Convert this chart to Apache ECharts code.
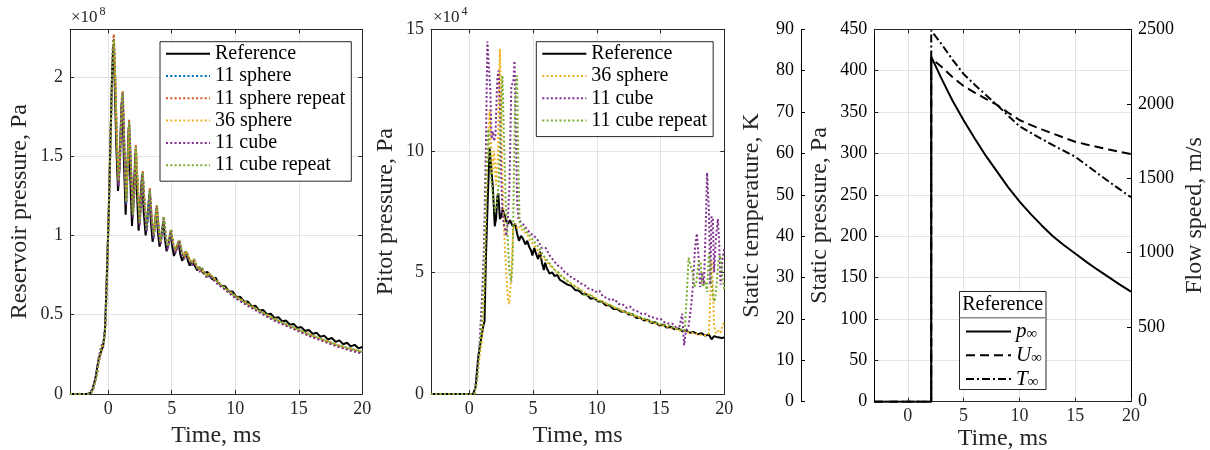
<!DOCTYPE html>
<html><head><meta charset="utf-8">
<script src="https://cdn.jsdelivr.net/npm/echarts@6/dist/echarts.min.js"></script>
<style>html,body{margin:0;padding:0;background:#fff}#c{width:1210px;height:450px}</style>
</head><body><div id="c"></div><script>
// ---------- Panel 1: reservoir pressure (x 1e8 Pa) ----------
const refRes = [[-3,0],[-1.6,0],[-1.3,0.01],[-1.0,0.1],[-0.75,0.22],[-0.55,0.27],[-0.4,0.3],[-0.25,0.4],[-0.1,0.75],[0.05,1.15],[0.2,1.65],[0.32,2.05],[0.42,2.2],[0.52,1.95],[0.65,1.55],[0.78,1.28],[0.9,1.45],[1.05,1.82],[1.12,1.86],[1.25,1.45],[1.38,1.13],[1.5,1.4],[1.62,1.68],[1.75,1.35],[1.88,1.06],[2.0,1.25],[2.15,1.52],[2.28,1.25],[2.4,1.03],[2.52,1.2],[2.67,1.38],[2.8,1.15],[2.95,1.0],[3.1,1.12],[3.24,1.26],[3.37,1.08],[3.5,0.96],[3.65,1.05],[3.79,1.17],[3.92,1.02],[4.05,0.93],[4.2,1.0],[4.34,1.09],[4.48,0.97],[4.6,0.9],[4.76,0.95],[4.92,1.02],[5.05,0.93],[5.18,0.87],[5.35,0.91],[5.54,0.96],[5.68,0.88],[5.82,0.84],[5.98,0.87],[6.12,0.9],[6.28,0.84],[6.42,0.81],[6.6,0.84],[6.72,0.85],[6.88,0.8],[7.0,0.78],[7.2,0.8],[7.32,0.8],[7.5,0.76],[7.65,0.75],[7.82,0.77],[7.95,0.76],[8.12,0.73],[8.3,0.72],[8.45,0.735],[8.6,0.71],[8.9,0.682],[9.2,0.68],[9.5,0.647],[9.8,0.646],[10.1,0.612],[10.4,0.613],[10.7,0.582],[11.0,0.583],[11.3,0.553],[11.6,0.556],[11.9,0.526],[12.2,0.53],[12.5,0.502],[12.8,0.506],[13.1,0.479],[13.4,0.484],[13.7,0.457],[14.0,0.463],[14.3,0.437],[14.6,0.442],[14.9,0.416],[15.2,0.422],[15.5,0.397],[15.8,0.404],[16.1,0.379],[16.4,0.386],[16.7,0.361],[17.0,0.368],[17.3,0.344],[17.6,0.353],[17.9,0.329],[18.2,0.338],[18.5,0.314],[18.8,0.323],[19.1,0.3],[19.4,0.31],[19.7,0.288],[20.0,0.296]];
const timeSim1 = [-3,-1.6,-1.2,-0.9,-0.7,-0.5,-0.35,-0.2,-0.05,0.1,0.25,0.38,0.45,0.55,0.68,0.82,0.95,1.08,1.15,1.28,1.42,1.55,1.65,1.8,1.95,2.08,2.18,2.33,2.48,2.6,2.72,2.88,3.03,3.16,3.28,3.43,3.58,3.71,3.83,3.98,4.13,4.26,4.38,4.53,4.68,4.81,4.95,5.12,5.3,5.45,5.6,5.8,6.0,6.15,6.4,6.6,6.75,7.0,7.2,7.35,7.6,7.8,7.95,8.5,9,10,11,12,13,14,15,16,17,18,19,20];
const sphere11Res = [0,0,0.02,0.12,0.22,0.29,0.32,0.45,0.85,1.3,1.8,2.18,2.24,2.0,1.6,1.32,1.5,1.85,1.9,1.55,1.2,1.45,1.72,1.42,1.12,1.3,1.56,1.3,1.07,1.22,1.4,1.18,1.03,1.15,1.29,1.1,0.99,1.08,1.19,1.04,0.95,1.02,1.12,0.99,0.92,0.97,1.04,0.94,0.9,0.93,0.97,0.89,0.86,0.9,0.85,0.82,0.85,0.8,0.78,0.8,0.76,0.74,0.76,0.71,0.68,0.615,0.565,0.52,0.475,0.44,0.405,0.37,0.34,0.31,0.285,0.265];
const sphere11rRes = [0,0,0.02,0.11,0.21,0.28,0.31,0.46,0.88,1.33,1.83,2.22,2.27,2.02,1.62,1.33,1.52,1.88,1.91,1.56,1.21,1.46,1.73,1.43,1.13,1.31,1.57,1.31,1.08,1.23,1.41,1.19,1.04,1.16,1.3,1.11,1.0,1.09,1.19,1.05,0.96,1.03,1.12,1.0,0.93,0.98,1.04,0.95,0.9,0.94,0.97,0.89,0.86,0.9,0.85,0.82,0.85,0.8,0.78,0.8,0.76,0.74,0.76,0.71,0.675,0.61,0.56,0.515,0.47,0.435,0.4,0.365,0.335,0.305,0.28,0.26];
const sphere36Res = [0,0,0.02,0.12,0.23,0.3,0.32,0.44,0.83,1.28,1.78,2.15,2.23,2.01,1.62,1.35,1.5,1.83,1.88,1.56,1.22,1.45,1.71,1.43,1.14,1.31,1.55,1.31,1.09,1.23,1.39,1.19,1.05,1.16,1.28,1.11,1.0,1.09,1.18,1.05,0.96,1.03,1.11,1.0,0.93,0.98,1.03,0.95,0.91,0.94,0.96,0.9,0.87,0.9,0.85,0.83,0.85,0.8,0.79,0.8,0.76,0.745,0.76,0.715,0.68,0.62,0.57,0.52,0.48,0.44,0.405,0.372,0.342,0.312,0.288,0.268];
const cube11Res = [0,0,0.03,0.14,0.25,0.31,0.33,0.46,0.86,1.3,1.79,2.17,2.24,2.0,1.6,1.31,1.49,1.84,1.89,1.54,1.19,1.44,1.71,1.41,1.11,1.29,1.55,1.29,1.06,1.21,1.39,1.17,1.02,1.14,1.28,1.09,0.98,1.07,1.18,1.03,0.94,1.01,1.11,0.98,0.91,0.96,1.03,0.93,0.89,0.92,0.96,0.88,0.85,0.89,0.84,0.81,0.84,0.79,0.77,0.79,0.75,0.73,0.75,0.7,0.67,0.605,0.555,0.51,0.465,0.43,0.395,0.36,0.33,0.3,0.275,0.255];
const cube11rRes = [0,0,0.02,0.12,0.23,0.3,0.32,0.45,0.86,1.31,1.8,2.19,2.25,2.02,1.62,1.34,1.52,1.86,1.9,1.56,1.21,1.46,1.72,1.43,1.13,1.31,1.56,1.31,1.08,1.23,1.4,1.19,1.04,1.16,1.29,1.11,1.0,1.09,1.19,1.05,0.96,1.03,1.12,1.0,0.93,0.98,1.04,0.95,0.91,0.94,0.97,0.9,0.87,0.9,0.85,0.83,0.85,0.8,0.785,0.8,0.76,0.745,0.76,0.715,0.68,0.615,0.565,0.52,0.475,0.44,0.405,0.37,0.34,0.31,0.287,0.267];

// ---------- Panel 2: pitot pressure (x 1e4 Pa) ----------
const refPitot = [[-3,0],[0.3,0],[0.5,0.3],[0.7,1.5],[0.8,1.85],[0.95,1.9],[1.1,2.8],[1.2,3.0],[1.3,5.5],[1.45,8.0],[1.6,10.1],[1.72,10.1],[1.85,8.5],[2.0,6.9],[2.1,7.2],[2.2,8.1],[2.28,8.25],[2.4,7.2],[2.5,7.3],[2.62,7.6],[2.75,7.4],[2.9,7.1],[3.05,7.0],[3.2,7.15],[3.4,6.9],[3.6,7.0],[3.75,6.6],[3.9,6.3],[4.05,6.5],[4.2,6.4],[4.4,6.15],[4.55,6.3],[4.7,6.05],[4.85,5.9],[4.95,5.7],[5.1,6.0],[5.25,5.75],[5.4,5.55],[5.55,5.85],[5.7,5.4],[5.85,5.1],[5.95,5.4],[6.1,5.15],[6.3,4.95],[6.5,5.0],[6.7,4.85],[6.9,4.9],[7.1,4.7],[7.4,4.6],[7.7,4.5],[8.0,4.45],[8.3,4.28],[8.6,4.25],[8.9,4.1],[9.2,4.1],[9.5,3.92],[9.8,3.95],[10.1,3.8],[10.4,3.8],[10.7,3.65],[11,3.65],[11.3,3.5],[11.6,3.5],[11.9,3.38],[12.2,3.4],[12.5,3.27],[12.8,3.28],[13.1,3.13],[13.4,3.15],[13.7,3.02],[14,3.05],[14.3,2.92],[14.6,2.95],[14.9,2.82],[15.2,2.85],[15.5,2.73],[15.8,2.76],[16.1,2.66],[16.4,2.7],[16.7,2.58],[17,2.62],[17.3,2.52],[17.6,2.55],[17.9,2.46],[18.2,2.5],[18.5,2.4],[18.8,2.44],[19.0,2.25],[19.2,2.38],[19.5,2.33],[19.8,2.3],[20,2.32]];
const sphere36Pitot = [[-3,0],[0.4,0],[0.6,0.5],[0.8,1.5],[1.0,2.2],[1.2,4.5],[1.4,9.5],[1.6,11.7],[1.8,9.0],[1.95,10.0],[2.1,8.6],[2.25,9.8],[2.4,14.2],[2.5,12.0],[2.6,9.0],[2.75,6.5],[2.9,5.0],[3.05,3.8],[3.15,3.7],[3.3,5.0],[3.45,6.8],[3.6,7.0],[3.8,6.8],[4.0,6.9],[4.2,6.7],[4.5,6.6],[4.8,6.3],[5.1,6.1],[5.4,5.9],[5.7,5.6],[6.0,5.5],[6.3,5.3],[6.6,5.15],[6.9,5.0],[7.2,4.85],[7.5,4.75],[7.8,4.6],[8.1,4.5],[8.4,4.4],[8.7,4.3],[9.0,4.2],[9.3,4.1],[9.6,4.05],[9.9,3.95],[10.2,3.85],[10.5,3.8],[10.8,3.7],[11.1,3.65],[11.4,3.55],[11.7,3.5],[12,3.42],[12.3,3.35],[12.6,3.3],[12.9,3.22],[13.2,3.18],[13.5,3.1],[13.8,3.05],[14.1,2.98],[14.4,2.95],[14.7,2.88],[15,2.85],[15.3,2.8],[15.6,2.75],[15.9,2.7],[16.2,2.68],[16.5,2.62],[16.8,2.6],[17.1,2.55],[17.4,2.52],[17.7,2.48],[18,2.45],[18.3,2.42],[18.6,2.4],[18.8,2.5],[18.9,4.0],[19.0,5.5],[19.1,4.5],[19.2,2.8],[19.35,2.5],[19.5,2.6],[19.7,2.5],[19.85,2.8],[20,3.0]];
const cube11Pitot = [[-3,0],[0.4,0],[0.6,0.8],[0.8,2.0],[1.0,4.0],[1.15,6.0],[1.3,10.0],[1.42,14.5],[1.55,14.5],[1.65,12.5],[1.75,10.5],[1.85,10.8],[1.95,10.4],[2.05,10.6],[2.2,13.0],[2.3,13.3],[2.4,12.0],[2.5,9.0],[2.6,7.5],[2.7,7.0],[2.8,6.8],[2.9,6.5],[3.0,7.0],[3.15,8.5],[3.3,12.7],[3.45,12.8],[3.55,13.7],[3.65,11.0],[3.75,8.0],[3.85,7.2],[4.0,7.1],[4.2,7.0],[4.5,6.8],[4.8,6.6],[5.1,6.5],[5.4,6.3],[5.7,6.0],[6.0,6.0],[6.3,5.7],[6.6,5.5],[6.9,5.3],[7.2,5.2],[7.5,5.0],[7.8,4.9],[8.1,4.75],[8.4,4.7],[8.7,4.55],[9.0,4.5],[9.3,4.35],[9.6,4.3],[9.9,4.2],[10.2,4.25],[10.5,4.0],[10.8,3.95],[11.1,3.85],[11.4,3.9],[11.7,3.7],[12,3.7],[12.3,3.55],[12.6,3.6],[12.9,3.45],[13.2,3.4],[13.5,3.3],[13.8,3.3],[14.1,3.2],[14.4,3.15],[14.7,3.1],[15,3.1],[15.3,2.95],[15.6,2.9],[15.9,2.9],[16.2,2.75],[16.5,2.8],[16.7,3.3],[16.85,2.0],[17.0,2.6],[17.2,2.8],[17.4,3.6],[17.55,4.5],[17.7,6.0],[17.85,6.6],[18.0,5.5],[18.1,4.4],[18.25,5.0],[18.4,4.5],[18.55,7.0],[18.65,9.1],[18.8,7.5],[18.9,4.5],[19.0,7.3],[19.1,7.2],[19.2,5.0],[19.35,6.5],[19.5,7.2],[19.6,6.2],[19.7,4.5],[19.85,5.5],[20,6.0]];
const cube11rPitot = [[-3,0],[0.4,0],[0.6,0.5],[0.8,1.8],[1.0,3.0],[1.2,5.5],[1.35,9.0],[1.5,10.9],[1.6,10.0],[1.7,9.0],[1.85,8.2],[2.0,7.5],[2.15,7.8],[2.3,8.6],[2.45,11.0],[2.6,13.1],[2.7,11.0],[2.85,8.0],[3.0,6.5],[3.15,5.0],[3.3,4.6],[3.4,5.5],[3.5,9.0],[3.6,12.0],[3.75,13.1],[3.85,9.5],[3.95,7.0],[4.1,6.9],[4.3,6.8],[4.6,6.6],[4.9,6.4],[5.2,6.2],[5.5,6.0],[5.8,5.7],[6.1,5.5],[6.4,5.3],[6.7,5.1],[7.0,5.0],[7.3,4.8],[7.6,4.7],[7.9,4.55],[8.2,4.45],[8.5,4.35],[8.8,4.25],[9.1,4.0],[9.4,4.1],[9.7,4.0],[10,3.85],[10.3,3.8],[10.6,3.75],[10.9,3.7],[11.2,3.6],[11.5,3.55],[11.8,3.45],[12.1,3.4],[12.4,3.35],[12.7,3.3],[13,3.2],[13.3,3.2],[13.6,3.1],[13.9,3.1],[14.2,3.0],[14.5,2.95],[14.8,2.9],[15.1,2.85],[15.4,2.85],[15.7,2.8],[16,2.75],[16.3,2.7],[16.6,2.65],[16.9,2.6],[17.05,4.0],[17.2,5.6],[17.35,5.3],[17.5,5.0],[17.65,4.4],[17.8,4.6],[18.0,5.5],[18.15,5.4],[18.3,4.4],[18.5,4.6],[18.65,4.2],[18.8,5.8],[18.95,5.0],[19.1,4.0],[19.25,3.8],[19.4,4.5],[19.55,5.5],[19.7,5.7],[19.85,4.8],[20,4.3]];

// ---------- Panel 3: free-stream conditions ----------
const timeFree = [-3,2.1,2.1,3,4,5,6,7,8,9,10,11,12,13,14,15,16,17,18,19,20];
const pInf = [0,0,417,391,364,340,318,297,278,259,242,227,213,200,189,179,169,159.5,150.5,141.5,133];
const uInf = [0,0,2305,2250,2180,2119,2075,2033,1992,1940,1891,1858,1828,1800,1772,1745,1727,1710,1693,1677,1663];
const tInf = [0,0,89.7,86.5,82.7,79.2,76.6,74.1,71.7,69.1,66.6,65.0,63.5,62.0,60.6,59.2,57.2,55.2,53.2,51.3,49.4];

const names1 = ['Reference','11 sphere','11 sphere repeat','36 sphere','11 cube','11 cube repeat'];
const names2 = ['Reference','36 sphere','11 cube','11 cube repeat'];
const names3 = ['p∞','U∞','T∞'];

const FONT = '"Liberation Serif","Times New Roman",serif';
const AX = '#262626', GRIDC = '#e4e4e4';
const C = {blue:'#0072BD', red:'#D95319', yellow:'#EDB120', purple:'#7E2F8E', green:'#77AC30'};
const zip = (t, v) => t.map((x, i) => [x, v[i]]);
const plain = v => String(v);

function xBottom(g, gap) {
  return {type:'value', gridIndex:g, min:-3, max:20, position:'bottom', name:'Time, ms', nameLocation:'middle', nameGap:gap, nameMoveOverlap:false,
    nameTextStyle:{fontFamily:FONT, fontSize:24, color:AX},
    axisLine:{show:true, onZero:false, lineStyle:{color:AX, width:1}},
    axisTick:{show:true, inside:true, length:4, lineStyle:{color:AX}},
    axisLabel:{showMinLabel:false, fontFamily:FONT, fontSize:18, color:AX, margin:6, formatter:plain},
    splitLine:{show:true, lineStyle:{color:GRIDC, width:1}}};
}
function xTop(g) {
  return {type:'value', gridIndex:g, min:-3, max:20, position:'top',
    axisLine:{show:true, onZero:false, lineStyle:{color:AX, width:1}},
    axisTick:{show:true, inside:true, length:4, lineStyle:{color:AX}},
    axisLabel:{show:false}, splitLine:{show:false}};
}
function yAx(g, pos, min, max, interval, opts) {
  const o = {type:'value', gridIndex:g, position:pos, min:min, max:max, interval:interval, nameMoveOverlap:false,
    axisLine:{show:true, onZero:false, lineStyle:{color:AX, width:1}},
    axisTick:{show:true, inside:true, length:4, lineStyle:{color:AX}},
    axisLabel:{show:false}, splitLine:{show:false}};
  return Object.assign(o, opts || {});
}
const yLab = (extra) => Object.assign({show:true, fontFamily:FONT, fontSize:18, color:AX, margin:7, formatter:plain}, extra || {});
const nameStyle = {fontFamily:FONT, fontSize:24, color:AX};

function dotted(name, data, color, xi, yi) {
  return {type:'line', name:name, data:data, xAxisIndex:xi, yAxisIndex:yi, symbol:'none', showSymbol:false, animation:false,
    lineStyle:{color:color, width:2, type:[2,2.3]}, itemStyle:{color:color}, z:3};
}
function solid(name, data, xi, yi, dash) {
  return {type:'line', name:name, data:data, xAxisIndex:xi, yAxisIndex:yi, symbol:'none', showSymbol:false, animation:false,
    lineStyle:{color:'#000', width:2, type:dash || 'solid'}, itemStyle:{color:'#000'}, z:2};
}

const legendBase = {orient:'vertical', selectedMode:false, itemWidth:44, itemHeight:20, itemGap:2.3,
  itemStyle:{opacity:0},
  textStyle:{fontFamily:FONT, fontSize:20, color:'#000', lineHeight:20}, z:10};

const option = {
  animation:false,
  backgroundColor:'#fff',
  grid:[
    {left:70, top:29.3, width:292.3, height:364.7, containLabel:false, outerBoundsMode:'none'},
    {left:431, top:29.3, width:293.3, height:364.7, containLabel:false, outerBoundsMode:'none'},
    {left:874.3, top:29.3, width:256.7, height:372.4, containLabel:false, outerBoundsMode:'none'}
  ],
  xAxis:[xBottom(0,30), xTop(0), xBottom(1,30), xTop(1), xBottom(2,25), xTop(2)],
  yAxis:[
    yAx(0,'left',0,2.3,0.5,{axisLabel:yLab({showMaxLabel:false}), splitLine:{show:true, lineStyle:{color:GRIDC}}, name:'Reservoir pressure, Pa', nameLocation:'middle', nameGap:38, nameTextStyle:nameStyle}),
    yAx(0,'right',0,2.3,0.5),
    yAx(1,'left',0,15,5,{axisLabel:yLab(), splitLine:{show:true, lineStyle:{color:GRIDC}}, name:'Pitot pressure, Pa', nameLocation:'middle', nameGap:33, nameTextStyle:nameStyle}),
    yAx(1,'right',0,15,5),
    yAx(2,'left',0,450,50,{axisLabel:yLab({color:'#000'}), axisLine:{show:true,onZero:false,lineStyle:{color:'#000',width:1}}, splitLine:{show:true, lineStyle:{color:GRIDC}}, name:'Static pressure, Pa', nameLocation:'middle', nameGap:43, nameTextStyle:nameStyle}),
    yAx(2,'left',0,90,10,{offset:73.3, axisLabel:yLab({color:'#000'}), axisLine:{show:true,onZero:false,lineStyle:{color:'#000',width:1}}, axisTick:{show:true,inside:true,length:4,lineStyle:{color:'#000'}}, name:'Static temperature, K', nameLocation:'middle', nameGap:37, nameTextStyle:nameStyle}),
    yAx(2,'right',0,2500,500,{axisLabel:yLab({color:'#000'}), axisLine:{show:true,onZero:false,lineStyle:{color:'#000',width:1}}, axisTick:{show:true,inside:true,length:4,lineStyle:{color:'#000'}}, name:'Flow speed, m/s', nameLocation:'middle', nameGap:52, nameTextStyle:nameStyle})
  ],
  legend:[
    Object.assign({}, legendBase, {left:160, top:41.7, data:names1, padding:[2,6,6,5], borderColor:AX, borderWidth:1, backgroundColor:'#fff'}),
    Object.assign({}, legendBase, {left:536.3, top:41.7, data:names2, padding:[2,6,6,5], borderColor:AX, borderWidth:1, backgroundColor:'#fff'}),
    Object.assign({}, legendBase, {left:960, top:320, data:names3, itemWidth:45, itemHeight:20, itemGap:2.8, padding:[1,4,1,5], borderWidth:0,
      formatter: n => '{i|' + n.charAt(0) + '}{s|∞}',
      textStyle:{fontFamily:FONT, fontSize:20, color:'#000', lineHeight:20,
        rich:{i:{fontFamily:FONT, fontStyle:'italic', fontSize:21, lineHeight:20}, s:{fontFamily:FONT, fontSize:15, lineHeight:20, padding:[6,0,0,0]}}}})
  ],
  graphic:[
    {type:'text', left:71, top:9, style:{text:'×10', font:'17px "Liberation Serif"', fill:AX}},
    {type:'text', left:99.5, top:6, style:{text:'8', font:'12px "Liberation Serif"', fill:AX}},
    {type:'text', left:433, top:9, style:{text:'×10', font:'17px "Liberation Serif"', fill:AX}},
    {type:'text', left:461.5, top:6, style:{text:'4', font:'12px "Liberation Serif"', fill:AX}},
    {type:'rect', z:8, shape:{x:959.5, y:291.5, width:86.5, height:98}, style:{fill:'#fff', stroke:AX, lineWidth:1}},
    {type:'line', z:9, shape:{x1:959.5, y1:317.7, x2:1046, y2:317.7}, style:{stroke:'#8a8a8a', lineWidth:1.5}},
    {type:'text', z:9, x:1002.7, y:304.5, style:{text:'Reference', font:'20px "Liberation Serif"', fill:'#000', textAlign:'center', textVerticalAlign:'middle', align:'center', verticalAlign:'middle'}}
  ],
  series:[
    solid('Reference', refRes, 0, 0),
    dotted('11 sphere', zip(timeSim1, sphere11Res), C.blue, 0, 0),
    dotted('11 sphere repeat', zip(timeSim1, sphere11rRes), C.red, 0, 0),
    dotted('36 sphere', zip(timeSim1, sphere36Res), C.yellow, 0, 0),
    dotted('11 cube', zip(timeSim1, cube11Res), C.purple, 0, 0),
    dotted('11 cube repeat', zip(timeSim1, cube11rRes), C.green, 0, 0),
    solid('Reference', refPitot, 2, 2),
    dotted('36 sphere', sphere36Pitot, C.yellow, 2, 2),
    dotted('11 cube', cube11Pitot, C.purple, 2, 2),
    dotted('11 cube repeat', cube11rPitot, C.green, 2, 2),
    solid('p∞', zip(timeFree, pInf), 4, 4),
    solid('U∞', zip(timeFree, uInf), 4, 6, [9,5]),
    solid('T∞', zip(timeFree, tInf), 4, 5, [8,3,2,3])
  ]
};
const chart = echarts.init(document.getElementById('c'), null, {renderer:'canvas'});
chart.setOption(option);
</script></body></html>
